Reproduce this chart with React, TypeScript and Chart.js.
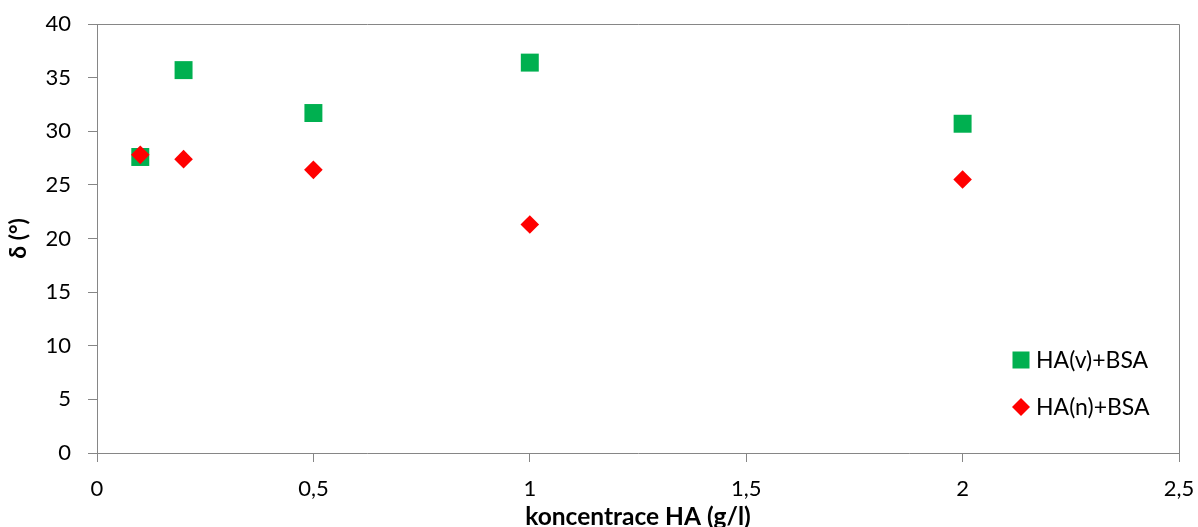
import React, { useEffect, useRef } from "react";
import { Chart, registerables } from "chart.js";

Chart.register(...registerables);

const xValuesV = [0.1, 0.2, 0.5, 1, 2];
const yValuesV = [27.6, 35.7, 31.7, 36.4, 30.7];
const xValuesN = [0.1, 0.2, 0.5, 1, 2];
const yValuesN = [27.8, 27.4, 26.4, 21.3, 25.5];
const seriesLabels = ["HA(v)+BSA", "HA(n)+BSA"];
const xTitle = "koncentrace HA (g/l)";
const yTitle = "δ (°)";

const FONT = "Lato";
const AXIS = "#868686";

const frameLegendPlugin = {
  id: "frameLegend",
  afterDraw(chart: any) {
    const { ctx, chartArea } = chart;
    ctx.save();
    ctx.strokeStyle = AXIS;
    ctx.lineWidth = 1;
    ctx.beginPath();
    ctx.moveTo(chartArea.left, chartArea.top + 0.5);
    ctx.lineTo(chartArea.right + 0.5, chartArea.top + 0.5);
    ctx.lineTo(chartArea.right + 0.5, chartArea.bottom);
    ctx.stroke();

    // legend
    const lx = chartArea.right - 158;
    const ly = chartArea.bottom - 93;
    const gap = 47;
    ctx.font = `23px ${FONT}`;
    ctx.textBaseline = "middle";
    ctx.textAlign = "left";
    chart.data.datasets.forEach((ds: any, i: number) => {
      const cy = ly + i * gap;
      ctx.fillStyle = ds.backgroundColor;
      if (ds.pointStyle === "rect") {
        ctx.fillRect(lx - 8.5, cy - 8.5, 17, 17);
      } else {
        ctx.beginPath();
        ctx.moveTo(lx - 9, cy);
        ctx.lineTo(lx, cy - 9);
        ctx.lineTo(lx + 9, cy);
        ctx.lineTo(lx, cy + 9);
        ctx.closePath();
        ctx.fill();
      }
      ctx.fillStyle = "#000";
      ctx.fillText(ds.label, lx + 15, cy + 1);
    });
    ctx.restore();
  },
};

export default function App() {
  const ref = useRef<HTMLCanvasElement | null>(null);
  useEffect(() => {
    if (!ref.current) return;
    const chart = new Chart(ref.current, {
      type: "scatter",
      data: {
        datasets: [
          {
            label: seriesLabels[0],
            data: xValuesV.map((x, i) => ({ x, y: yValuesV[i] })),
            backgroundColor: "#00B050",
            borderColor: "#00B050",
            borderWidth: 0,
            pointStyle: "rect",
            pointRadius: 12.7,
            pointHoverRadius: 12.7,
            order: 1,
          },
          {
            label: seriesLabels[1],
            data: xValuesN.map((x, i) => ({ x, y: yValuesN[i] })),
            backgroundColor: "#FF0000",
            borderColor: "#FF0000",
            borderWidth: 0,
            pointStyle: "rectRot",
            pointRadius: 9.3,
            pointHoverRadius: 9.3,
            order: 0,
          },
        ],
      },
      options: {
        animation: false,
        responsive: true,
        maintainAspectRatio: false,
        layout: { padding: { top: 24, right: 19, left: 0, bottom: 0 } },
        plugins: {
          legend: { display: false },
          tooltip: { enabled: false },
        },
        scales: {
          x: {
            type: "linear",
            min: 0,
            max: 2.5,
            afterFit: (s: any) => {
              s.height = 74;
              s.paddingLeft = 0;
              s.paddingRight = 0;
            },
            ticks: {
              stepSize: 0.5,
              color: "#000",
              font: { family: FONT, size: 22 },
              padding: 14,
              callback: (v: any) => String(v).replace(".", ","),
            },
            grid: {
              drawOnChartArea: false,
              drawTicks: true,
              tickLength: 9,
              color: AXIS,
            },
            border: { display: true, color: AXIS, width: 1 },
            title: {
              display: true,
              text: xTitle,
              color: "#000",
              font: { family: FONT, size: 24.5, weight: "bold", lineHeight: 1 },
              padding: { top: 0, bottom: -2 },
            },
          },
          y: {
            type: "linear",
            min: 0,
            max: 40,
            afterFit: (s: any) => {
              s.width = 97;
              s.paddingTop = 0;
              s.paddingBottom = 0;
            },
            ticks: {
              stepSize: 5,
              color: "#000",
              font: { family: FONT, size: 22 },
              padding: 17,
            },
            grid: {
              drawOnChartArea: false,
              drawTicks: true,
              tickLength: 9,
              color: AXIS,
            },
            border: { display: true, color: AXIS, width: 1 },
            title: {
              display: true,
              text: yTitle,
              color: "#000",
              font: { family: FONT, size: 23, weight: "bold", lineHeight: 1 },
              padding: { top: 7, bottom: 0 },
            },
          },
        },
      },
      plugins: [frameLegendPlugin],
    });
    return () => chart.destroy();
  }, []);
  return (
    <div style={{ position: "absolute", left: 0, top: 0, width: 1198, height: 527, background: "#fff" }}>
      <canvas ref={ref} />
    </div>
  );
}
